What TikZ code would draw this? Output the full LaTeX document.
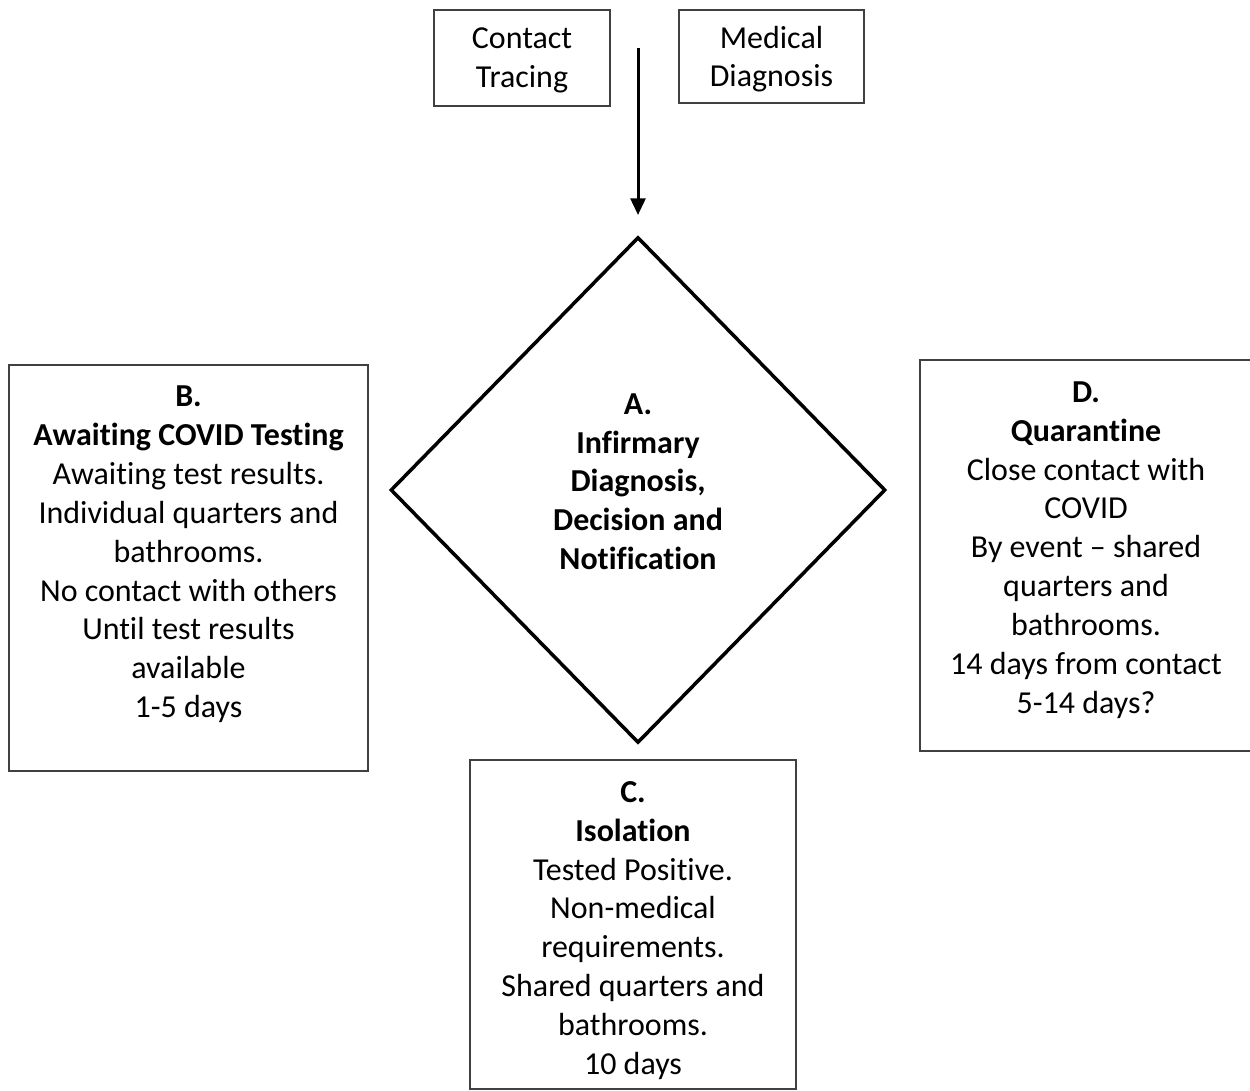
\documentclass[tikz,border=0pt]{standalone}
\usepackage{fontspec}
\setmainfont{Carlito}[Ligatures=NoCommon]
\usetikzlibrary{shapes.geometric,arrows.meta}
\begin{document}
\begin{tikzpicture}[x=0.02cm, y=-0.02cm,
    every node/.style={font=\fontsize{18.2}{22.1}\selectfont, align=center},
    srcbox/.style={draw=black!75, line width=1.1pt, inner sep=0pt},
    statebox/.style={draw=black!75, line width=1.1pt, inner sep=0pt},
    decision/.style={draw, diamond, line width=2pt, inner sep=0pt}]
    \useasboundingbox (0,0) rectangle (1250,1091);
    \node[srcbox, minimum width=3.52cm, minimum height=1.92cm] (tracing) at (522,58) {\rule{0pt}{14.7pt}Contact\\Tracing};
    \node[srcbox, minimum width=3.70cm, minimum height=1.86cm] (diagnosis) at (771.5,56.5) {\rule{0pt}{15.6pt}Medical\\Diagnosis};
    \node[decision, minimum width=9.9cm, minimum height=10.12cm] (infirmary) at (638,490)
      {\textbf{A.}\\\textbf{Infirmary}\\\textbf{Diagnosis,}\\\textbf{Decision and}\\\textbf{Notification}\rule[-9.6pt]{0pt}{0pt}};
    \node[statebox, minimum width=7.18cm, minimum height=8.12cm] (testing) at (188.5,568)
      {\textbf{B.}\\\textbf{Awaiting COVID Testing}\\Awaiting test results.\\Individual quarters and\\bathrooms.\\No contact with others\\Until test results\\available\\1-5 days\rule[-18.3pt]{0pt}{0pt}};
    \node[statebox, minimum width=6.52cm, minimum height=6.58cm] (isolation) at (633,924.5)
      {\rule{0pt}{18.7pt}\textbf{C.}\\\textbf{Isolation}\\Tested Positive.\\Non-medical\\requirements.\\Shared quarters and\\bathrooms.\\10 days};
    \node[statebox, minimum width=6.64cm, minimum height=7.82cm] (quarantine) at (1086,555.5)
      {\textbf{D.}\\\textbf{Quarantine}\\Close contact with\\COVID\\By event -- shared\\quarters and\\bathrooms.\\14 days from contact\\5-14 days?\rule[-9.3pt]{0pt}{0pt}};
    % arrow into the decision
    \coordinate (feed) at (638,48);
    \coordinate (feedtip) at (638,215);
    \draw[line width=1.7pt, -{Triangle[length=9.5pt, width=8.5pt]}] (feed) -- (feedtip);
\end{tikzpicture}
\end{document}
